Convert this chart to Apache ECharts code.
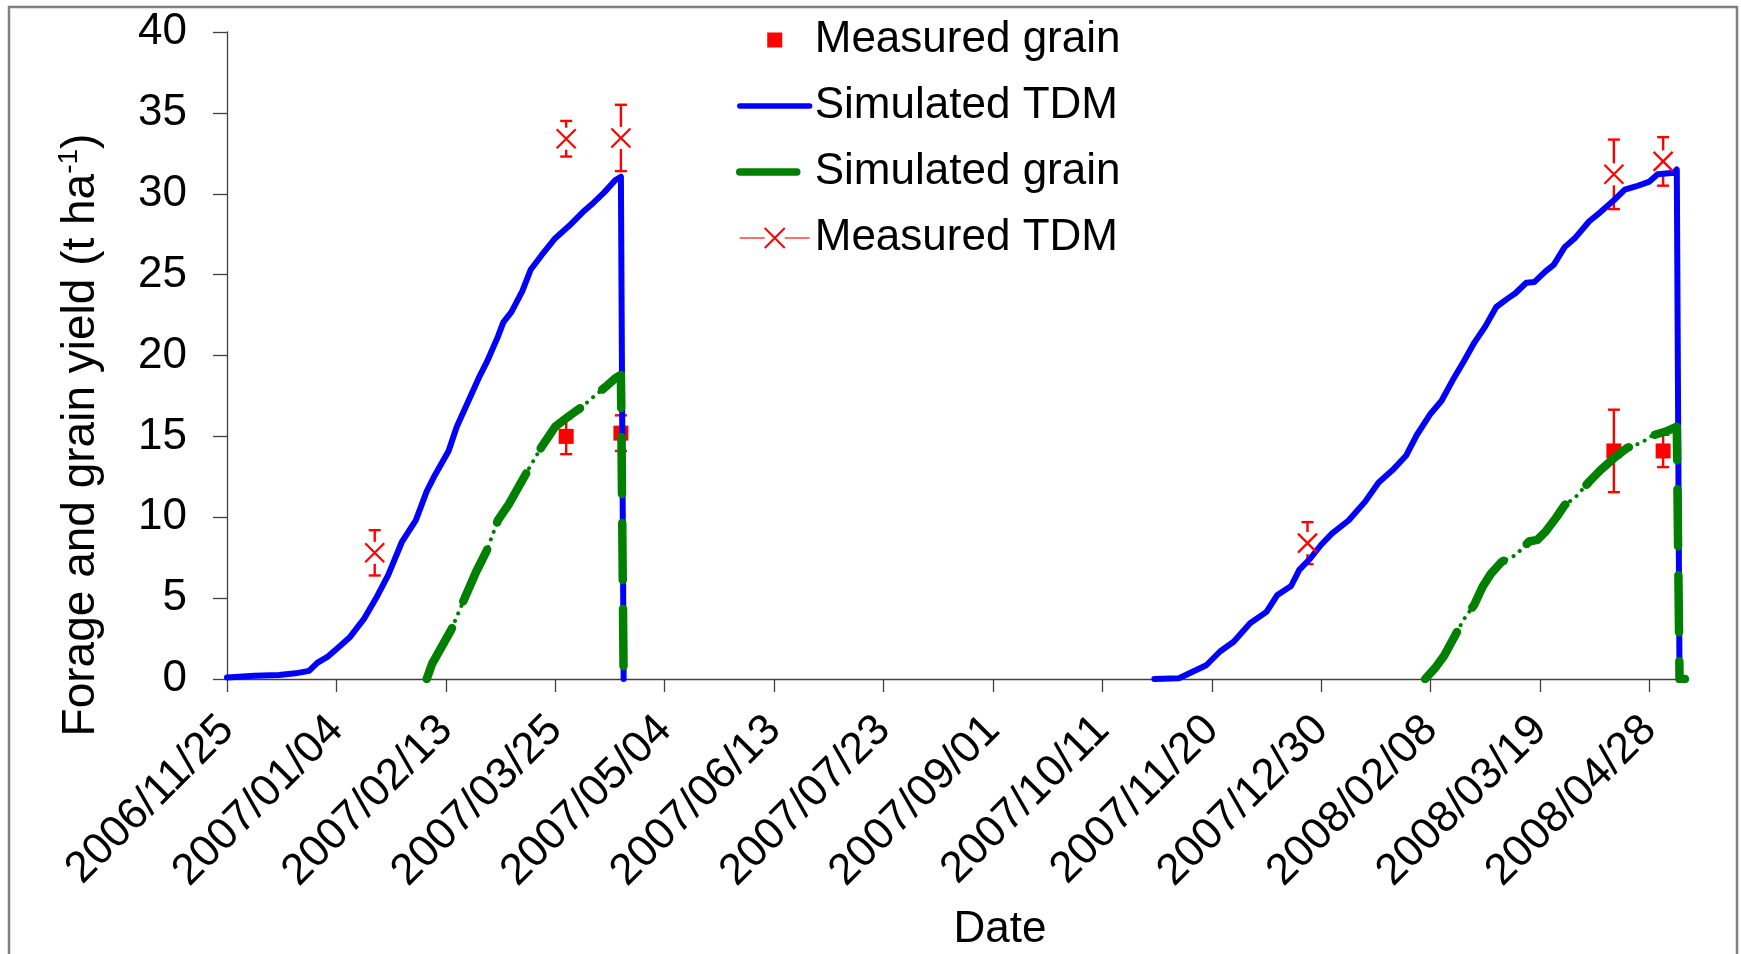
<!DOCTYPE html>
<html>
<head>
<meta charset="utf-8">
<script src="https://cdn.jsdelivr.net/npm/echarts@6/dist/echarts.min.js"></script>
<style>
html, body { margin: 0; padding: 0; background: #ffffff; }
#chart { width: 1741px; height: 954px; }
</style>
</head>
<body>
<div id="chart"></div>
<script>
// ---- Data (x = days since 2006/11/25) ----
const xTickLabels = ['2006/11/25', '2007/01/04', '2007/02/13', '2007/03/25', '2007/05/04',
  '2007/06/13', '2007/07/23', '2007/09/01', '2007/10/11', '2007/11/20', '2007/12/30',
  '2008/02/08', '2008/03/19', '2008/04/28'];
const tickStepDays = 40;
const lastDay = 533;
const yTicks = [0, 5, 10, 15, 20, 25, 30, 35, 40];

const simTdmSeason1 = [[0, 0.1], [10, 0.2], [19, 0.25], [25, 0.35], [30, 0.5], [33, 1.0], [37, 1.4],
  [41, 2.0], [45, 2.6], [50, 3.7], [55, 5.15], [59, 6.45], [64, 8.5], [69, 9.8], [73, 11.6],
  [76, 12.6], [81, 14.1], [84, 15.6], [88, 17.1], [92, 18.6], [95, 19.6], [99, 21.15], [101, 22.05],
  [104, 22.7], [108, 24.0], [111, 25.3], [115, 26.2], [120, 27.25], [125, 28.0], [130, 28.85],
  [134, 29.45], [138, 30.1], [142, 30.85], [144, 31.05], [145, 0]];
const simTdmSeason2 = [[339, 0], [348, 0.05], [353, 0.45], [358, 0.85], [363, 1.7], [368, 2.3],
  [374, 3.45], [380, 4.15], [384, 5.2], [389, 5.75], [392, 6.75], [396, 7.45], [400, 8.3], [404, 9.0],
  [410, 9.8], [416, 10.95], [421, 12.15], [426, 12.9], [431, 13.8], [435, 15.1], [440, 16.4],
  [444, 17.2], [448, 18.45], [452, 19.6], [456, 20.8], [460, 21.8], [464, 23.0], [468, 23.5],
  [471, 23.85], [475, 24.5], [478, 24.55], [482, 25.2], [485, 25.6], [489, 26.7], [493, 27.3],
  [498, 28.3], [502, 28.85], [507, 29.6], [511, 30.25], [515, 30.45], [520, 30.75], [523, 31.2],
  [529, 31.3], [530, 31.5], [531, 0], [533, 0]];
const simGrainSeason1 = [[73, 0], [75, 0.95], [78, 1.85], [82, 3.05], [86, 4.65], [91, 6.6],
  [95, 7.95], [99, 9.8], [103, 10.8], [106, 11.7], [110, 12.9], [115, 14.35], [120, 15.6],
  [125, 16.25], [130, 16.85], [134, 17.45], [139, 18.15], [142, 18.6], [144, 18.8], [145, 0]];
const simGrainSeason2 = [[438, 0], [442, 0.75], [445, 1.45], [449, 2.7], [452, 3.65], [456, 4.6],
  [459, 5.7], [462, 6.5], [466, 7.25], [471, 7.65], [476, 8.5], [479, 8.6], [482, 9.1], [486, 10.0],
  [489, 10.75], [493, 11.25], [498, 12.2], [502, 12.9], [507, 13.65], [512, 14.3], [517, 14.6],
  [521, 15.05], [526, 15.3], [530, 15.6], [531, 0], [533, 0]];

const measuredGrainDays = [124, 144, 507, 525];
const measuredGrain = [15.0, 15.2, 14.1, 14.1];
const measuredGrainErr = [1.1, 1.1, 2.55, 1.0];

const measuredTdmDays = [54, 124, 144, 395, 507, 525];
const measuredTdm = [7.8, 33.4, 33.45, 8.4, 31.2, 32.0];
const measuredTdmErr = [1.4, 1.1, 2.05, 1.3, 2.15, 1.5];

// ---- Build ----
const FONT = "'Liberation Sans', Arial, Helvetica, sans-serif";
const GAP = [200, '-'];
const tickDays = xTickLabels.map((_, i) => i * tickStepDays);
const BLUE = '#0000ff', GREEN = '#008000', RED = '#ff0000';

function errorBars(days, vals, errs) {
  return days.map((d, i) => [d, vals[i], errs[i]]);
}
function errorBarRenderer(gap) {
  return function (params, api) {
    const x = api.value(0), v = api.value(1), e = api.value(2);
    const pTop = api.coord([x, v + e]);
    const pMid = api.coord([x, v]);
    const pBot = api.coord([x, v - e]);
    const cap = 6;
    const st = () => ({ stroke: RED, lineWidth: 2.4 });
    return {
      type: 'group',
      children: [
        { type: 'line', shape: { x1: pTop[0], y1: pTop[1], x2: pMid[0], y2: pMid[1] - gap }, style: st() },
        { type: 'line', shape: { x1: pMid[0], y1: pMid[1] + gap, x2: pBot[0], y2: pBot[1] }, style: st() },
        { type: 'line', shape: { x1: pTop[0] - cap, y1: pTop[1], x2: pTop[0] + cap, y2: pTop[1] }, style: st() },
        { type: 'line', shape: { x1: pBot[0] - cap, y1: pBot[1], x2: pBot[0] + cap, y2: pBot[1] }, style: st() }
      ]
    };
  };
}

const chart = echarts.init(document.getElementById('chart'), null, { renderer: 'canvas' });
const axisColor = '#404040';

chart.setOption({
  animation: false,
  backgroundColor: '#ffffff',
  grid: { left: 227, right: 56, top: 32, bottom: 275, outerBoundsMode: 'none', containLabel: false },
  xAxis: {
    type: 'value', min: 0, max: lastDay, interval: tickStepDays,
    splitLine: { show: false },
    axisLine: { show: true, onZero: false, lineStyle: { color: axisColor, width: 1.3 } },
    axisTick: { show: true, inside: false, length: 13, customValues: tickDays, lineStyle: { color: axisColor, width: 1.3 } },
    axisLabel: {
      show: true, rotate: 45, margin: 44, fontSize: 44, fontFamily: FONT, color: '#000',
      customValues: tickDays,
      formatter: v => xTickLabels[Math.round(v / tickStepDays)] || ''
    }
  },
  yAxis: {
    type: 'value', min: yTicks[0], max: yTicks[yTicks.length - 1], interval: yTicks[1] - yTicks[0],
    splitLine: { show: false },
    axisLine: { show: true, lineStyle: { color: axisColor, width: 1.3 } },
    axisTick: { show: true, inside: false, length: 14, lineStyle: { color: axisColor, width: 1.3 } },
    axisLabel: { margin: 40, fontSize: 44, fontFamily: FONT, color: '#000' }
  },
  legend: {
    orient: 'vertical', left: 736, top: 18, padding: 0,
    itemWidth: 70, itemHeight: 25, itemGap: 22,
    selectedMode: false,
    textStyle: { fontSize: 44, fontFamily: FONT, color: '#000' },
    data: [
      { name: 'Measured grain', icon: 'path://M0,0M25,25M5,5h15v15h-15z' },
      { name: 'Simulated TDM', itemStyle: { opacity: 0 },
        lineStyle: { color: BLUE, width: 5.3, type: 'solid', cap: 'round', opacity: 1 } },
      { name: 'Simulated grain', itemStyle: { opacity: 0 },
        lineStyle: { color: GREEN, width: 7.5, type: [57, 29], cap: 'round', opacity: 1 } },
      { name: 'Measured TDM', lineStyle: { type: [25, 20], width: 1.6, color: '#ff4040', opacity: 1 } }
    ]
  },
  graphic: [
    { type: 'rect', z: -10, silent: true, shape: { x: 9, y: 7, width: 1728, height: 990 },
      style: { fill: 'none', stroke: '#808080', lineWidth: 2.5 } },
    { type: 'text', x: 81, y: 435, rotation: Math.PI / 2, silent: true,
      style: {
        text: 'Forage and grain yield (t ha{sup|-1})',
        fontSize: 46, fontFamily: FONT, fill: '#000', lineHeight: 52,
        align: 'center', verticalAlign: 'middle', textAlign: 'center', textVerticalAlign: 'middle',
        rich: { sup: { fontSize: 28, fontFamily: FONT, fill: '#000', verticalAlign: 'top', lineHeight: 30 } }
      } },
    { type: 'text', x: 1000, y: 930, silent: true,
      style: { text: 'Date', fontSize: 44, fontFamily: FONT, fill: '#000',
        align: 'center', verticalAlign: 'middle', textAlign: 'center', textVerticalAlign: 'middle' } }
  ],
  series: [
    { name: 'grainErr', type: 'custom', silent: true, encode: { x: 0, y: 1 },
      data: errorBars(measuredGrainDays, measuredGrain, measuredGrainErr),
      renderItem: errorBarRenderer(0) },
    { name: 'Measured grain', type: 'scatter', silent: true, symbol: 'rect', symbolSize: 15,
      itemStyle: { color: RED, opacity: 1 }, emphasis: { disabled: true },
      data: measuredGrainDays.map((d, i) => [d, measuredGrain[i]]) },
    { name: 'Simulated TDM', type: 'line', silent: true, symbol: 'none', showSymbol: false,
      connectNulls: false, emphasis: { disabled: true },
      itemStyle: { color: BLUE },
      lineStyle: { color: BLUE, width: 6, type: 'solid', join: 'round', cap: 'round', opacity: 1 },
      data: simTdmSeason1.concat([GAP], simTdmSeason2) },
    { name: 'grainDots', type: 'line', silent: true, symbol: 'none', showSymbol: false,
      connectNulls: false, emphasis: { disabled: true },
      itemStyle: { color: GREEN },
      lineStyle: { color: GREEN, width: 4, type: [0.1, 8], cap: 'round' },
      data: simGrainSeason1.slice(0, -1).concat([GAP], simGrainSeason2.slice(0, -3)) },
    { name: 'Simulated grain', type: 'line', silent: true, symbol: 'none', showSymbol: false,
      connectNulls: false, emphasis: { disabled: true },
      itemStyle: { color: GREEN },
      lineStyle: { color: GREEN, width: 8.5, type: [57, 29], join: 'round', cap: 'round' },
      data: simGrainSeason1.concat([GAP], simGrainSeason2) },
    { name: 'tdmErr', type: 'custom', silent: true, encode: { x: 0, y: 1 },
      data: errorBars(measuredTdmDays, measuredTdm, measuredTdmErr),
      renderItem: errorBarRenderer(11) },
    { name: 'Measured TDM', type: 'line', silent: true,
      symbol: 'path://M0,0L20,20M20,0L0,20', symbolSize: 19, showSymbol: true, showAllSymbol: true,
      emphasis: { disabled: true },
      itemStyle: { color: RED, borderColor: RED, borderWidth: 2.2 },
      lineStyle: { color: RED, width: 1, opacity: 0 },
      data: measuredTdmDays.map((d, i) => [d, measuredTdm[i]]) }
  ]
});
</script>
</body>
</html>
